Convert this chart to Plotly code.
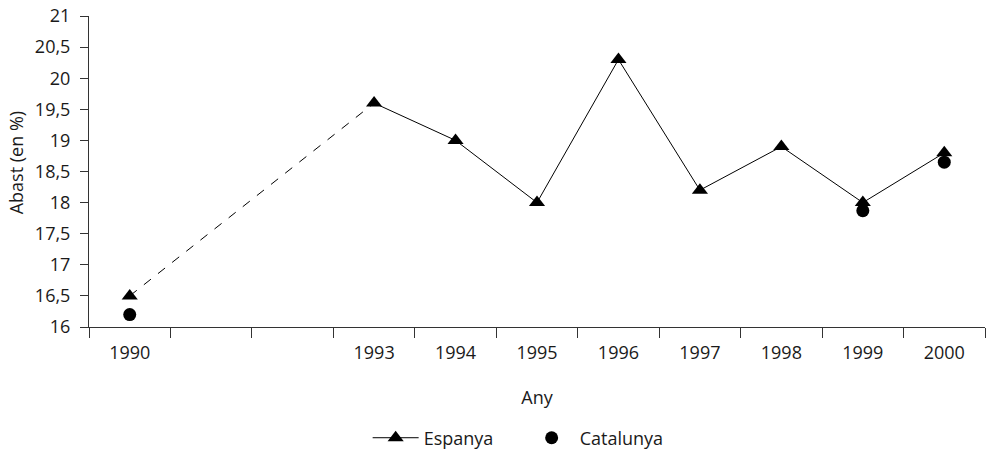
import plotly.graph_objects as go

years = ["1990", "1991", "1992", "1993", "1994", "1995", "1996", "1997", "1998", "1999", "2000"]
tick_labels = ["1990", "", "", "1993", "1994", "1995", "1996", "1997", "1998", "1999", "2000"]
espanya = [16.5, None, None, 19.6, 19.0, 18.0, 20.3, 18.2, 18.9, 18.0, 18.8]
catalunya = [16.2, None, None, None, None, None, None, None, None, 17.87, 18.65]
y_ticks = [16, 16.5, 17, 17.5, 18, 18.5, 19, 19.5, 20, 20.5, 21]
y_tick_labels = ["16", "16,5", "17", "17,5", "18", "18,5", "19", "19,5", "20", "20,5", "21"]

FONT = "Open Sans"
FS = 18
AXIS_COL = "#333333"

# dashed connector between 1990 and 1993 (gap years)
dash_x = [years[0], years[3]]
dash_y = [espanya[0], espanya[3]]

fig = go.Figure()
fig.add_trace(go.Scatter(
    x=dash_x, y=dash_y, mode="lines",
    line=dict(color="black", width=1, dash="dash"),
    showlegend=False, hoverinfo="skip",
))
fig.add_trace(go.Scatter(
    x=years, y=espanya, mode="lines+markers", name="Espanya",
    line=dict(color="black", width=1),
    marker=dict(symbol="triangle-up", size=14, color="black"),
    connectgaps=False,
))
fig.add_trace(go.Scatter(
    x=years, y=catalunya, mode="markers", name="Catalunya",
    marker=dict(symbol="circle", size=13, color="black"),
))

fig.update_layout(
    width=988, height=453,
    margin=dict(l=89, r=3, t=16, b=126, autoexpand=False),
    paper_bgcolor="white", plot_bgcolor="white",
    font=dict(family=FONT, size=FS, color="#1a1a1a"),
    showlegend=True,
    legend=dict(
        orientation="h", x=0.311, xanchor="left", y=-0.357, yanchor="middle",
        font=dict(family=FONT, size=FS, color="#1a1a1a"),
        itemwidth=46, entrywidth=95, bgcolor="rgba(0,0,0,0)",
    ),
    xaxis=dict(
        type="category", categoryorder="array", categoryarray=years,
        tickmode="array", tickvals=years, ticktext=tick_labels,
        tickson="boundaries", ticks="outside", ticklen=10, tickwidth=1, tickcolor=AXIS_COL,
        showline=True, linecolor=AXIS_COL, linewidth=1,
        showgrid=False, zeroline=False, automargin=False,
        ticklabelstandoff=9,
        range=[-0.5, 10.5],
        title=dict(text="Any", standoff=28, font=dict(family=FONT, size=FS)),
    ),
    yaxis=dict(
        range=[16, 21], tickmode="array", tickvals=y_ticks, ticktext=y_tick_labels,
        ticks="outside", ticklen=8, tickwidth=1, tickcolor=AXIS_COL,
        showline=True, linecolor=AXIS_COL, linewidth=1,
        showgrid=False, zeroline=False, ticklabelstandoff=6, automargin=False,
    ),
    annotations=[dict(
        text="Abast (en %)", textangle=-90, xref="paper", yref="paper",
        x=-0.082, y=0.528, xanchor="center", yanchor="middle", showarrow=False,
        font=dict(family=FONT, size=FS, color="#1a1a1a"),
    )],
)

# remove the default 8px page margin so the figure sits at the window's top-left
fig.write_html("out.html", config={"displayModeBar": False},
               post_script="document.body.style.margin='0';")
